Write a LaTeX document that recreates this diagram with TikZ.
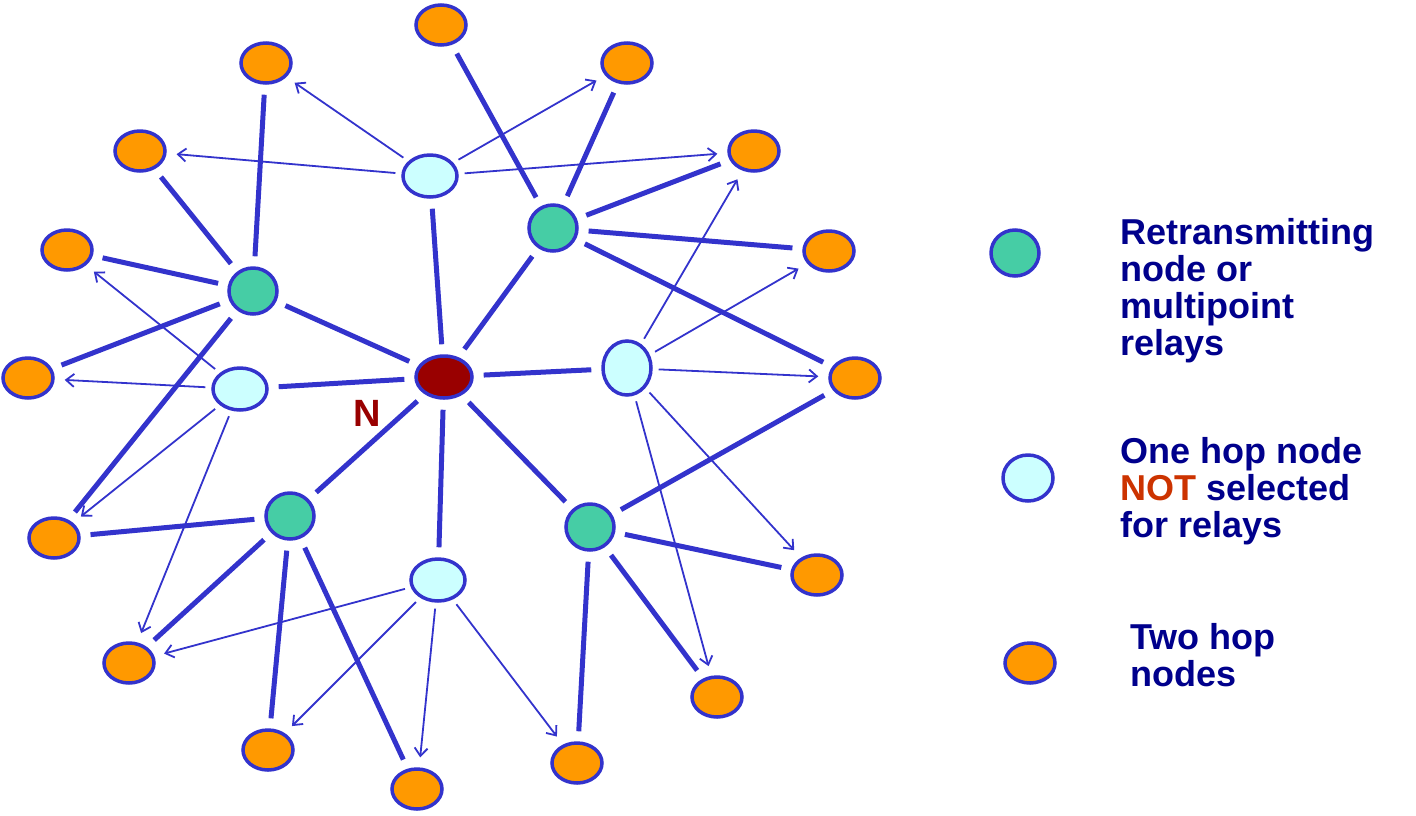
\documentclass[tikz,border=0pt]{standalone}
\usepackage{fontspec}
\setmainfont{Liberation Sans}
\usetikzlibrary{arrows.meta,shapes.geometric}
\definecolor{ln}{RGB}{51,51,204}
\definecolor{org}{RGB}{255,153,0}
\definecolor{cy}{RGB}{204,255,255}
\definecolor{gr}{RGB}{70,205,165}
\definecolor{nred}{RGB}{153,0,0}
\definecolor{txt}{RGB}{0,0,140}
\begin{document}
\begin{tikzpicture}[x=1pt,y=-1pt,
  base/.style={ellipse,draw=ln,line width=3.5pt,inner sep=0pt},
  two/.style={base,fill=org,minimum width=50pt,minimum height=40pt},
  one/.style={base,fill=cy,minimum width=54pt,minimum height=42pt},
  mpr/.style={base,fill=gr,minimum width=48pt,minimum height=46pt},
  thk/.style={draw=ln,line width=5pt,shorten <=10pt,shorten >=10pt},
  arr/.style={draw=ln,line width=1.8pt,-{Straight Barb[length=8pt,width=13pt]},shorten <=6pt,shorten >=10pt},
  lab/.style={font=\bfseries\fontsize{36}{37}\selectfont,text=txt,align=left,anchor=north west,inner sep=0pt}]
\useasboundingbox (0,0) rectangle (1416,815);
\node[base,fill=nred,minimum width=56pt,minimum height=42pt] (N) at (444,377) {};
\node[font=\bfseries\fontsize{38}{40}\selectfont,text=nred] (Nl) at (367,413) {N};
% mpr
\node[mpr] (g1) at (553,228) {};
\node[mpr] (g2) at (253,291) {};
\node[mpr] (g3) at (290,516) {};
\node[mpr] (g4) at (590,527) {};
% one hop
\node[one] (c1) at (430,176) {};
\node[one] (c2) at (240,389) {};
\node[one,minimum width=48pt,minimum height=54pt] (c3) at (627,368) {};
\node[one] (c4) at (438,580) {};
% two hop
\node[two] (o1) at (441,25) {};
\node[two] (o2) at (266,63) {};
\node[two] (o3) at (627,63) {};
\node[two] (o4) at (140,151) {};
\node[two] (o5) at (754,151) {};
\node[two] (o6) at (67,250) {};
\node[two] (o7) at (829,251) {};
\node[two] (o8) at (28,378) {};
\node[two] (o9) at (855,378) {};
\node[two] (o10) at (54,538) {};
\node[two] (o11) at (817,575) {};
\node[two] (o12) at (129,663) {};
\node[two] (o13) at (717,697) {};
\node[two] (o14) at (268,750) {};
\node[two] (o15) at (577,763) {};
\node[two] (o16) at (417,789) {};
% N links
\foreach \t in {c1,c2,c3,c4,g1,g2,g3,g4} \draw[thk] (N) -- (\t);
% mpr links
\foreach \t in {o1,o3,o5,o7,o9} \draw[thk] (g1) -- (\t);
\foreach \t in {o2,o4,o6,o8,o10} \draw[thk] (g2) -- (\t);
\foreach \t in {o10,o12,o14,o16} \draw[thk] (g3) -- (\t);
\foreach \t in {o9,o11,o13,o15} \draw[thk] (g4) -- (\t);
% arrows
\foreach \t in {o2,o4,o3,o5} \draw[arr] (c1) -- (\t);
\foreach \t in {o6,o8,o10,o12} \draw[arr] (c2) -- (\t);
\foreach \t in {o5,o7,o9,o11,o13} \draw[arr] (c3) -- (\t);
\foreach \t in {o12,o14,o16,o15} \draw[arr] (c4) -- (\t);
% legend
\node[mpr] (lg) at (1015,253) {};
\node[lab] (lt1) at (1120,218) {Retransmitting\\node or\\multipoint\\relays};
\node[one,minimum width=50pt,minimum height=46pt] (lc) at (1028,478) {};
\node[lab] (lt2) at (1120,437) {One hop node\\\textcolor[RGB]{204,51,0}{NOT} selected\\for relays};
\node[two] (lo) at (1030,663) {};
\node[lab] (lt3) at (1130,623) {Two hop\\nodes};
\end{tikzpicture}
\end{document}
